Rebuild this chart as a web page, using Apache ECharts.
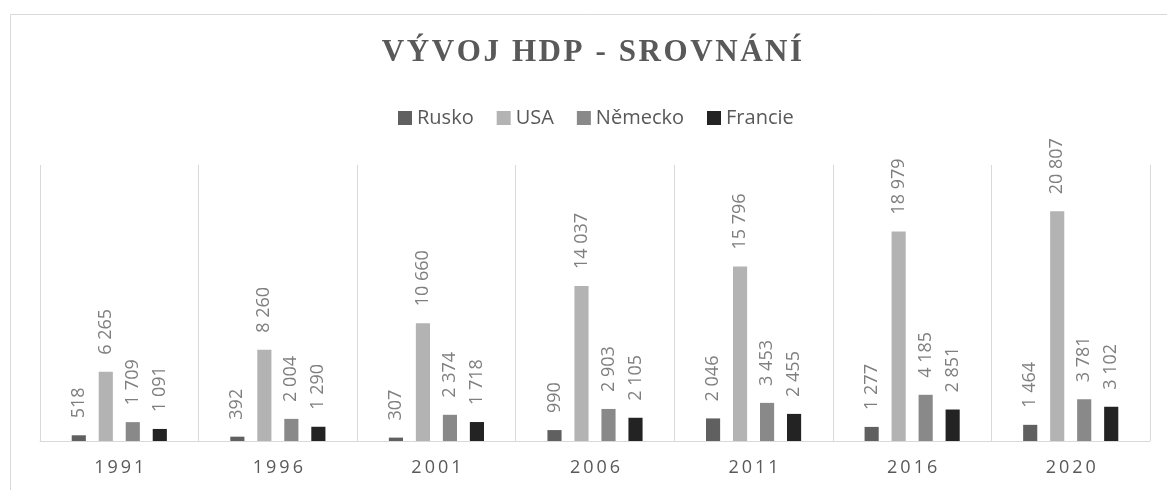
<!DOCTYPE html>
<html>
<head>
<meta charset="utf-8">
<script src="https://cdn.jsdelivr.net/npm/echarts@6/dist/echarts.min.js"></script>
<style>
  html, body { margin: 0; padding: 0; background: #fff; }
  #chart { width: 1167px; height: 490px; }
</style>
</head>
<body>
<div id="chart"></div>
<script>
var years = ['1991', '1996', '2001', '2006', '2011', '2016', '2020'];
var rusko = [518, 392, 307, 990, 2046, 1277, 1464];
var usa = [6265, 8260, 10660, 14037, 15796, 18979, 20807];
var nemecko = [1709, 2004, 2374, 2903, 3453, 4185, 3781];
var francie = [1091, 1290, 1718, 2105, 2455, 2851, 3102];
var seriesNames = ['Rusko', 'USA', 'Německo', 'Francie'];
var colors = ['#606060', '#b3b3b3', '#898989', '#232323'];

var titleText = 'VÝVOJ HDP - SROVNÁNÍ';

// mezera po tisících jako v originále
function fmt(v) {
    return String(v).replace(/\B(?=(\d{3})+(?!\d))/g, ' ');
}
// roztažení písmen (prostrkání)
function spread(s, sp) {
    return s.split('').join(sp || '\u2009');
}

var myChart = echarts.init(document.getElementById('chart'));

function makeSeries(name, data, color) {
    return {
        name: name,
        type: 'bar',
        data: data,
        barGap: '91%',
        barCategoryGap: '40%',
        itemStyle: { color: color },
        label: {
            show: true,
            position: 'top',
            rotate: 90,
            align: 'left',
            verticalAlign: 'middle',
            distance: 17,
            color: '#7f7f7f',
            fontSize: 18,
            fontFamily: 'Open Sans',
            formatter: function (p) { return fmt(p.value); }
        }
    };
}

var option = {
    animation: false,
    backgroundColor: '#fff',
    graphic: [
        {
            type: 'rect',
            z: -10,
            shape: { x: 10.5, y: 14.5, width: 1200, height: 600 },
            style: { fill: 'none', stroke: '#d9d9d9', lineWidth: 1 }
        },
        {
            type: 'text',
            x: 592,
            y: 53,
            style: {
                text: spread(titleText, '\u200A'),
                align: 'center',
                verticalAlign: 'middle',
                fill: '#595959',
                fontSize: 31,
                fontWeight: 'bold',
                fontFamily: 'Liberation Serif'
            }
        }
    ],
    legend: {
        data: seriesNames,
        left: 393,
        top: 103,
        icon: 'rect',
        itemWidth: 14,
        itemHeight: 14,
        itemGap: 23,
        textStyle: { color: '#595959', fontSize: 20, fontFamily: 'Open Sans' }
    },
    grid: { left: 40, right: 17, top: 165, bottom: 49 },
    xAxis: {
        type: 'category',
        data: years,
        axisTick: { show: false },
        axisLine: { lineStyle: { color: '#d9d9d9', width: 1 } },
        splitLine: { show: true, interval: 0, lineStyle: { color: '#d9d9d9', width: 1 } },
        axisLabel: {
            color: '#595959',
            fontSize: 18,
            fontFamily: 'Open Sans',
            margin: 18,
            formatter: function (v) { return spread(v); }
        }
    },
    yAxis: { type: 'value', min: 0, max: 25000, show: false },
    series: [
        makeSeries(seriesNames[0], rusko, colors[0]),
        makeSeries(seriesNames[1], usa, colors[1]),
        makeSeries(seriesNames[2], nemecko, colors[2]),
        makeSeries(seriesNames[3], francie, colors[3])
    ]
};
myChart.setOption(option);
</script>
</body>
</html>
